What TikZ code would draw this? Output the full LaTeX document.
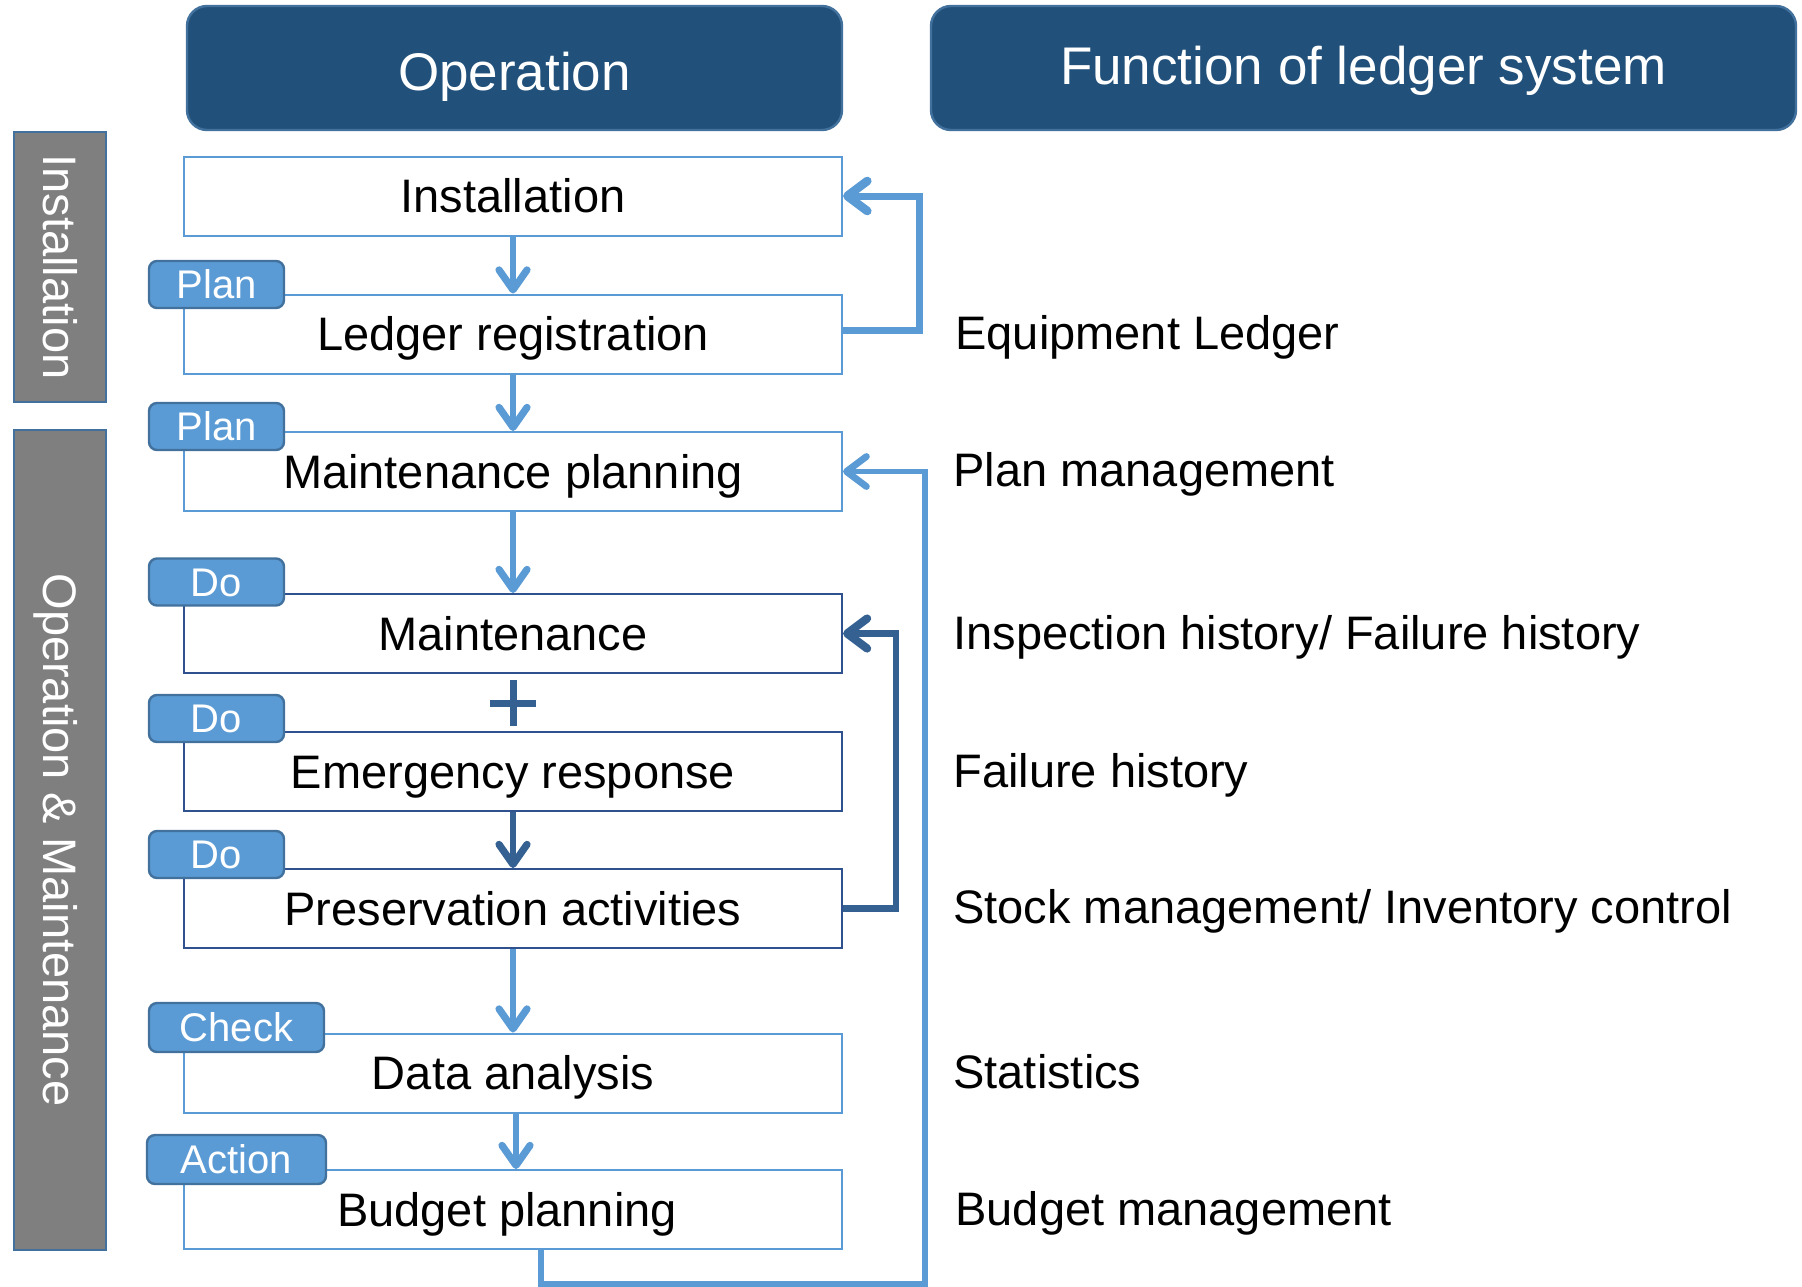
\documentclass[tikz,border=0pt]{standalone}
\usepackage{fontspec}
\setmainfont{Liberation Sans}
\usetikzlibrary{arrows.meta}
\definecolor{hdr}{RGB}{33,80,122}
\definecolor{hdrborder}{RGB}{65,113,156}
\definecolor{tagfill}{RGB}{91,155,213}
\definecolor{tagborder}{RGB}{65,113,156}
\definecolor{lb}{RGB}{91,155,213}
\definecolor{dkbox}{RGB}{47,82,143}
\definecolor{dkarrow}{RGB}{52,96,146}
\definecolor{sidegray}{RGB}{127,127,127}
\begin{document}
\begin{tikzpicture}[x=0.5pt,y=-0.5pt,
  hdrbox/.style={draw=hdrborder, line width=1.2pt, fill=hdr, rounded corners=10pt, text=white,
    font=\fontsize{26.5}{32}\selectfont, inner sep=0pt, text height=19pt, text depth=0pt, minimum height=62pt},
  box/.style={draw=lb, line width=1pt, fill=white, minimum width=329pt, minimum height=39.5pt,
    inner sep=0pt, font=\fontsize{23.5}{28}\selectfont, text height=16.8pt, text depth=0pt},
  dbox/.style={box, draw=dkbox},
  tag/.style={draw=tagborder, line width=1.2pt, fill=tagfill, rounded corners=4pt, text=white,
    font=\fontsize{20}{24}\selectfont, inner sep=0pt, minimum height=23.5pt, text height=14.3pt, text depth=0pt},
  side/.style={draw=tagborder, line width=1.2pt, fill=sidegray, text=white, rotate=-90,
    font=\fontsize{23.5}{28}\selectfont, inner sep=0pt, minimum height=46pt, text height=16.8pt, text depth=0pt},
  lbl/.style={anchor=west, inner sep=0pt, font=\fontsize{23.5}{28}\selectfont, text height=16.8pt, text depth=0pt},
  tipA/.style={-{Straight Barb[length=10pt,width=14pt,round,line width=0.8pt 1]}},
  tipB/.style={-{Straight Barb[length=10pt,width=15pt,round,line width=0.8pt 1]}},
  lbarrow/.style={draw=lb, line width=2.8pt, tipA},
  dkdown/.style={draw=dkarrow, line width=2.8pt, tipA},
  lbloop/.style={draw=lb, line width=3.5pt, tipB},
  dkloop/.style={draw=dkarrow, line width=3.3pt, tipB},
  lbthin/.style={draw=lb, line width=2.6pt, tipB}
]
\useasboundingbox (0,0) rectangle (1802,1286);

% headers
\node[hdrbox, minimum width=327.5pt, text height=22pt] (op) at (514.5,68) {Operation};
\node[hdrbox, minimum width=432.5pt, text depth=3pt] (fn) at (1363.5,68) {Function of ledger system};

% side boxes
\node[side, minimum width=135pt] (sinst) at (60,267) {Installation};
\node[side, minimum width=410pt] (som) at (60,840) {Operation \& Maintenance};

% boxes
\node[box] (inst) at (513,196) {Installation};
\node[box] (ledger) at (513,334) {Ledger registration};
\node[box] (mplan) at (513,471.5) {Maintenance planning};
\node[dbox] (maint) at (513,633.5) {Maintenance};
\node[dbox] (emerg) at (513,771.5) {Emergency response};
\node[dbox] (pres) at (513,908.5) {Preservation activities};
\node[box] (data) at (513,1073) {Data analysis};
\node[box] (budget) at (513,1209.5) {\hspace*{-6pt}Budget planning};

% tags
\node[tag, minimum width=67.5pt] (t1) at (216.5,284.5) {Plan};
\node[tag, minimum width=67.5pt] (t2) at (216.5,426.5) {Plan};
\node[tag, minimum width=67.5pt] (t3) at (216.5,582) {Do};
\node[tag, minimum width=67.5pt] (t4) at (216.5,718.5) {Do};
\node[tag, minimum width=67.5pt] (t5) at (216.5,854.5) {Do};
\node[tag, minimum width=87.5pt, minimum height=24.5pt] (t6) at (236.5,1027.5) {Check};
\node[tag, minimum width=89.5pt, minimum height=24.5pt] (t7) at (236.5,1159.5) {Action};

% down arrows
\draw[lbarrow] (inst.south) -- (ledger.north);
\draw[lbarrow] (ledger.south) -- (mplan.north);
\draw[lbarrow] (mplan.south) -- (maint.north);
\draw[dkdown] (emerg.south) -- (pres.north);
\draw[lbarrow] (pres.south) -- (data.north);
\draw[lbarrow] ([xshift=1.5pt]data.south) -- ([xshift=1.5pt]budget.north);

% plus sign
\coordinate (plus) at (513,703);
\draw[dkarrow, line width=3.5pt] ([xshift=-11.5pt]plus) -- ([xshift=11.5pt]plus);
\draw[dkarrow, line width=3.5pt] ([yshift=11.5pt]plus) -- ([yshift=-11.5pt]plus);

% loops
\draw[lbloop] ([yshift=2pt]ledger.east) -- ++(76,0) |- (inst.east);
\draw[dkloop] (pres.east) -- ++(53,0) |- (maint.east);
\draw[lbthin] ([xshift=14pt]budget.south) -- ++(0,34) -- ++(384,0) |- (mplan.east);

% right labels
\node[lbl] (l1) at (955,333) {Equipment Ledger};
\node[lbl] (l2) at (953,470) {Plan management};
\node[lbl] (l3) at (953,633) {Inspection history/ Failure history};
\node[lbl] (l4) at (953,771) {Failure history};
\node[lbl] (l5) at (953,907) {Stock management/ Inventory control};
\node[lbl] (l6) at (953,1072) {Statistics};
\node[lbl] (l7) at (955,1209) {Budget management};
\end{tikzpicture}
\end{document}
